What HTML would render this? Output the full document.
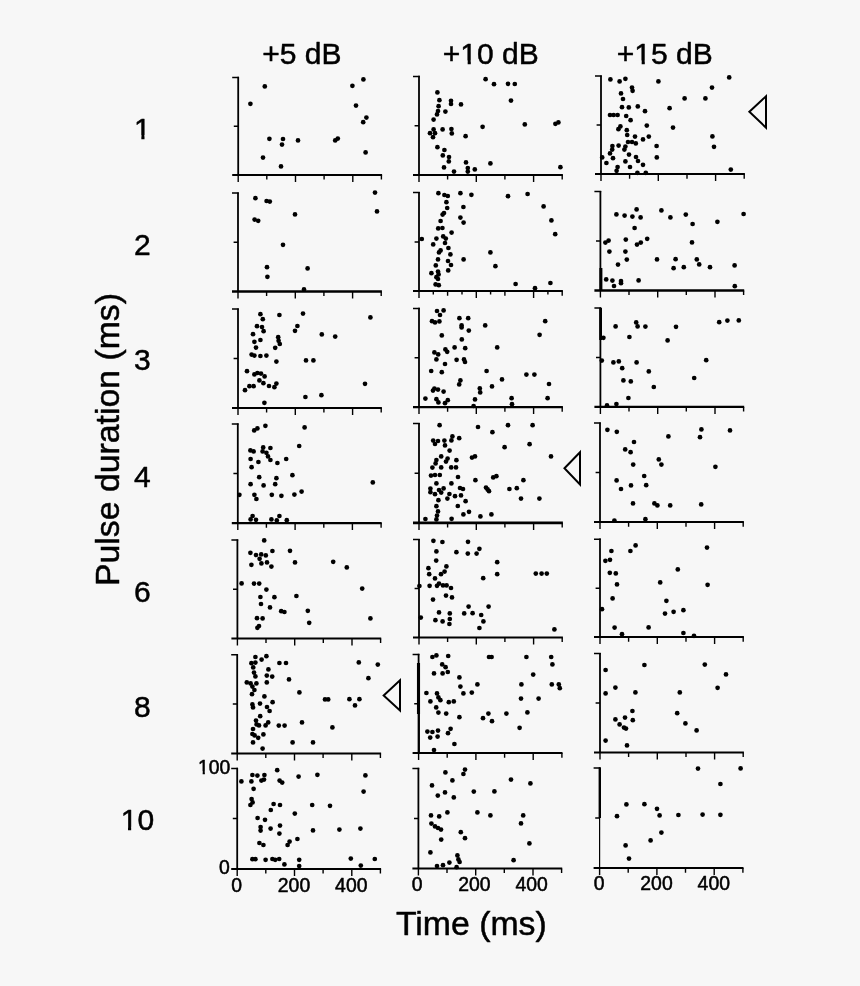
<!DOCTYPE html>
<html><head><meta charset="utf-8"><title>Figure</title>
<style>html,body{margin:0;padding:0;background:#f7f7f7}svg{display:block;will-change:transform;filter:grayscale(1)}text{font-family:"Liberation Sans",Arial,Helvetica,sans-serif;fill:#000;stroke:#000;stroke-width:0.5px;stroke-linejoin:round}</style></head><body>
<svg width="860" height="986" viewBox="0 0 860 986">
<rect width="860" height="986" fill="#f7f7f7"/>
<g stroke="#000" fill="none"><path stroke-width="1.80" d="M238.2 76.8V174.9"/><path stroke-width="1.5" d="M232.2 77.4H239.0M233.8 126.2H238.2"/><path stroke-width="2.00" d="M232.2 174.9H382.1"/><path stroke-width="1.4" d="M238.2 174.9v7.0M266.8 174.9v4.6M295.5 174.9v7.0M324.1 174.9v4.6M352.8 174.9v7.0M381.4 174.9v4.6"/></g>
<g stroke="#000" fill="none"><path stroke-width="1.80" d="M419.0 75.8V174.9"/><path stroke-width="1.5" d="M413.0 76.4H419.8M414.6 125.7H419.0"/><path stroke-width="2.00" d="M413.0 174.9H562.9"/><path stroke-width="1.4" d="M419.0 174.9v7.0M447.6 174.9v4.6M476.3 174.9v7.0M504.9 174.9v4.6M533.6 174.9v7.0M562.2 174.9v4.6"/></g>
<g stroke="#000" fill="none"><path stroke-width="1.80" d="M601.0 75.4V174.1"/><path stroke-width="1.5" d="M595.0 76.0H601.8M596.6 125.0H601.0"/><path stroke-width="2.00" d="M595.0 174.1H744.9"/><path stroke-width="1.4" d="M601.0 174.1v7.0M629.6 174.1v4.6M658.3 174.1v7.0M687.0 174.1v4.6M715.6 174.1v7.0M744.2 174.1v4.6"/></g>
<g stroke="#000" fill="none"><path stroke-width="1.80" d="M238.0 192.4V291.5"/><path stroke-width="1.5" d="M232.0 193.0H238.8M233.6 242.2H238.0"/><path stroke-width="2.50" d="M232.0 291.5H381.9"/><path stroke-width="1.4" d="M238.0 291.5v7.0M266.6 291.5v4.6M295.3 291.5v7.0M323.9 291.5v4.6M352.6 291.5v7.0M381.2 291.5v4.6"/></g>
<g stroke="#000" fill="none"><path stroke-width="1.80" d="M419.0 192.0V291.1"/><path stroke-width="1.5" d="M413.0 192.6H419.8M414.6 241.9H419.0"/><path stroke-width="2.00" d="M413.0 291.1H562.9"/><path stroke-width="1.4" d="M419.0 291.1v7.0M447.6 291.1v4.6M476.3 291.1v7.0M504.9 291.1v4.6M533.6 291.1v7.0M562.2 291.1v4.6M433.3 291.1v3.4M462.0 291.1v3.4M490.6 291.1v3.4M547.9 291.1v3.4"/></g>
<g stroke="#000" fill="none"><path stroke-width="1.80" d="M600.4 191.0V290.5"/><path stroke-width="3.00" d="M600.9 268.0V290.0"/><path stroke-width="1.5" d="M594.4 191.6H601.2M596.0 241.1H600.4"/><path stroke-width="2.30" d="M594.4 290.5H744.2"/><path stroke-width="1.4" d="M600.4 290.5v7.0M629.0 290.5v4.6M657.7 290.5v7.0M686.3 290.5v4.6M715.0 290.5v7.0M743.6 290.5v4.6"/></g>
<g stroke="#000" fill="none"><path stroke-width="1.80" d="M238.0 308.4V407.9"/><path stroke-width="1.5" d="M232.0 309.0H238.8M233.6 358.4H238.0"/><path stroke-width="2.00" d="M232.0 407.9H381.9"/><path stroke-width="1.4" d="M238.0 407.9v7.0M266.6 407.9v4.6M295.3 407.9v7.0M323.9 407.9v4.6M352.6 407.9v7.0M381.2 407.9v4.6"/></g>
<g stroke="#000" fill="none"><path stroke-width="1.80" d="M419.0 307.8V407.1"/><path stroke-width="1.5" d="M413.0 308.4H419.8M414.6 357.8H419.0"/><path stroke-width="2.30" d="M413.0 407.1H562.9"/><path stroke-width="1.4" d="M419.0 407.1v7.0M447.6 407.1v4.6M476.3 407.1v7.0M504.9 407.1v4.6M533.6 407.1v7.0M562.2 407.1v4.6"/></g>
<g stroke="#000" fill="none"><path stroke-width="1.80" d="M600.4 307.4V406.9"/><path stroke-width="2.80" d="M600.6 308.0V340.0"/><path stroke-width="1.5" d="M594.4 308.0H601.2M596.0 357.4H600.4"/><path stroke-width="2.30" d="M594.4 406.9H744.2"/><path stroke-width="1.4" d="M600.4 406.9v7.0M629.0 406.9v4.6M657.7 406.9v7.0M686.3 406.9v4.6M715.0 406.9v7.0M743.6 406.9v4.6"/></g>
<g stroke="#000" fill="none"><path stroke-width="1.80" d="M237.8 423.4V523.1"/><path stroke-width="1.5" d="M231.8 424.0H238.6M233.4 473.6H237.8"/><path stroke-width="2.30" d="M231.8 523.1H381.7"/><path stroke-width="1.4" d="M237.8 523.1v7.0M266.4 523.1v4.6M295.1 523.1v7.0M323.8 523.1v4.6M352.4 523.1v7.0M381.1 523.1v4.6"/></g>
<g stroke="#000" fill="none"><path stroke-width="1.80" d="M419.0 423.0V522.9"/><path stroke-width="1.5" d="M413.0 423.6H419.8M414.6 473.2H419.0"/><path stroke-width="2.60" d="M413.0 522.9H562.9"/><path stroke-width="1.4" d="M419.0 522.9v7.0M447.6 522.9v4.6M476.3 522.9v7.0M504.9 522.9v4.6M533.6 522.9v7.0M562.2 522.9v4.6"/></g>
<g stroke="#000" fill="none"><path stroke-width="1.80" d="M600.0 422.4V522.1"/><path stroke-width="1.5" d="M594.0 423.0H600.8M595.6 472.6H600.0"/><path stroke-width="2.00" d="M594.0 522.1H743.9"/><path stroke-width="1.4" d="M600.0 522.1v7.0M628.6 522.1v4.6M657.3 522.1v7.0M686.0 522.1v4.6M714.6 522.1v7.0M743.2 522.1v4.6"/></g>
<g stroke="#000" fill="none"><path stroke-width="1.80" d="M237.4 539.4V638.5"/><path stroke-width="1.5" d="M231.4 540.0H238.2M233.0 589.2H237.4"/><path stroke-width="2.00" d="M231.4 638.5H381.2"/><path stroke-width="1.4" d="M237.4 638.5v7.0M266.0 638.5v4.6M294.7 638.5v7.0M323.3 638.5v4.6M352.0 638.5v7.0M380.6 638.5v4.6"/></g>
<g stroke="#000" fill="none"><path stroke-width="1.80" d="M419.0 539.0V637.5"/><path stroke-width="1.5" d="M413.0 539.6H419.8M414.6 588.5H419.0"/><path stroke-width="2.00" d="M413.0 637.5H562.9"/><path stroke-width="1.4" d="M419.0 637.5v7.0M447.6 637.5v4.6M476.3 637.5v7.0M504.9 637.5v4.6M533.6 637.5v7.0M562.2 637.5v4.6"/></g>
<g stroke="#000" fill="none"><path stroke-width="1.80" d="M600.0 538.6V637.1"/><path stroke-width="1.5" d="M594.0 539.2H600.8M595.6 588.2H600.0"/><path stroke-width="2.00" d="M594.0 637.1H743.9"/><path stroke-width="1.4" d="M600.0 637.1v7.0M628.6 637.1v4.6M657.3 637.1v7.0M686.0 637.1v4.6M714.6 637.1v7.0M743.2 637.1v4.6"/></g>
<g stroke="#000" fill="none"><path stroke-width="1.80" d="M237.2 654.2V753.5"/><path stroke-width="1.5" d="M231.2 654.8H238.0M232.8 704.1H237.2"/><path stroke-width="2.00" d="M231.2 753.5H381.1"/><path stroke-width="1.4" d="M237.2 753.5v7.0M265.8 753.5v4.6M294.5 753.5v7.0M323.1 753.5v4.6M351.8 753.5v7.0M380.4 753.5v4.6"/></g>
<g stroke="#000" fill="none"><path stroke-width="1.80" d="M418.6 653.8V753.1"/><path stroke-width="3.10" d="M418.5 663.0V714.0"/><path stroke-width="2.00" d="M418.9 714.0V752.6"/><path stroke-width="1.5" d="M412.6 654.4H419.4M414.2 703.8H418.6"/><path stroke-width="2.00" d="M412.6 753.1H562.5"/><path stroke-width="1.4" d="M418.6 753.1v7.0M447.2 753.1v4.6M475.9 753.1v7.0M504.6 753.1v4.6M533.2 753.1v7.0M561.9 753.1v4.6"/></g>
<g stroke="#000" fill="none"><path stroke-width="1.80" d="M600.0 653.0V752.5"/><path stroke-width="1.5" d="M594.0 653.6H600.8M595.6 703.0H600.0"/><path stroke-width="2.00" d="M594.0 752.5H743.9"/><path stroke-width="1.4" d="M600.0 752.5v7.0M628.6 752.5v4.6M657.3 752.5v7.0M686.0 752.5v4.6M714.6 752.5v7.0M743.2 752.5v4.6"/></g>
<g stroke="#000" fill="none"><path stroke-width="1.80" d="M237.2 767.8V868.9"/><path stroke-width="1.5" d="M231.2 768.4H238.0M232.8 818.6H237.2"/><path stroke-width="2.00" d="M231.2 868.9H381.1"/><path stroke-width="1.4" d="M237.2 868.9v7.0M265.8 868.9v4.6M294.5 868.9v7.0M323.1 868.9v4.6M351.8 868.9v7.0M380.4 868.9v4.6"/></g>
<g stroke="#000" fill="none"><path stroke-width="1.80" d="M418.4 767.8V868.5"/><path stroke-width="1.5" d="M412.4 768.4H419.2M414.0 818.5H418.4"/><path stroke-width="2.00" d="M412.4 868.5H562.2"/><path stroke-width="1.4" d="M418.4 868.5v7.0M447.0 868.5v4.6M475.7 868.5v7.0M504.3 868.5v4.6M533.0 868.5v7.0M561.6 868.5v4.6"/></g>
<g stroke="#000" fill="none"><path stroke-width="1.20" d="M599.6 767.4V868.1"/><path stroke-width="2.40" d="M599.8 767.4V818.0"/><path stroke-width="1.5" d="M593.6 768.0H600.4M595.2 818.0H599.6"/><path stroke-width="2.00" d="M593.6 868.1H743.5"/><path stroke-width="1.4" d="M599.6 868.1v7.0M628.2 868.1v4.6M656.9 868.1v7.0M685.5 868.1v4.6M714.2 868.1v7.0M742.9 868.1v4.6"/></g>
<g fill="#000"><circle cx="250.4" cy="103.8" r="2.35"/><circle cx="264.8" cy="86.4" r="2.35"/><circle cx="269.4" cy="138.8" r="2.35"/><circle cx="263.0" cy="157.6" r="2.35"/><circle cx="283.0" cy="139.0" r="2.35"/><circle cx="282.0" cy="144.6" r="2.35"/><circle cx="281.0" cy="166.4" r="2.35"/><circle cx="298.0" cy="140.4" r="2.35"/><circle cx="335.2" cy="140.4" r="2.35"/><circle cx="337.8" cy="138.6" r="2.35"/><circle cx="352.4" cy="85.8" r="2.35"/><circle cx="363.4" cy="79.4" r="2.35"/><circle cx="356.0" cy="105.6" r="2.35"/><circle cx="366.4" cy="117.6" r="2.35"/><circle cx="363.2" cy="122.2" r="2.35"/><circle cx="365.6" cy="152.4" r="2.35"/></g>
<g fill="#000"><circle cx="485.6" cy="79.2" r="2.35"/><circle cx="494.0" cy="84.2" r="2.35"/><circle cx="508.0" cy="83.8" r="2.35"/><circle cx="514.8" cy="84.0" r="2.35"/><circle cx="511.0" cy="100.6" r="2.35"/><circle cx="437.4" cy="92.4" r="2.35"/><circle cx="439.4" cy="100.2" r="2.35"/><circle cx="451.0" cy="100.8" r="2.35"/><circle cx="451.0" cy="104.0" r="2.35"/><circle cx="461.0" cy="104.4" r="2.35"/><circle cx="438.6" cy="106.2" r="2.35"/><circle cx="438.0" cy="111.0" r="2.35"/><circle cx="445.4" cy="111.6" r="2.35"/><circle cx="437.0" cy="114.4" r="2.35"/><circle cx="433.6" cy="119.6" r="2.35"/><circle cx="482.6" cy="126.8" r="2.35"/><circle cx="524.8" cy="124.4" r="2.35"/><circle cx="555.4" cy="123.8" r="2.35"/><circle cx="558.4" cy="122.4" r="2.35"/><circle cx="433.6" cy="129.4" r="2.35"/><circle cx="442.6" cy="129.4" r="2.35"/><circle cx="451.4" cy="129.0" r="2.35"/><circle cx="430.0" cy="133.2" r="2.35"/><circle cx="435.0" cy="133.2" r="2.35"/><circle cx="451.8" cy="133.4" r="2.35"/><circle cx="433.0" cy="137.2" r="2.35"/><circle cx="465.6" cy="136.2" r="2.35"/><circle cx="437.4" cy="147.2" r="2.35"/><circle cx="444.4" cy="150.0" r="2.35"/><circle cx="442.8" cy="155.4" r="2.35"/><circle cx="449.0" cy="157.0" r="2.35"/><circle cx="448.8" cy="161.4" r="2.35"/><circle cx="466.0" cy="162.4" r="2.35"/><circle cx="490.4" cy="163.4" r="2.35"/><circle cx="444.0" cy="167.4" r="2.35"/><circle cx="467.8" cy="168.0" r="2.35"/><circle cx="474.8" cy="169.4" r="2.35"/><circle cx="560.4" cy="167.2" r="2.35"/><circle cx="454.0" cy="171.6" r="2.35"/><circle cx="467.8" cy="171.6" r="2.35"/></g>
<g fill="#000"><circle cx="610.4" cy="79.4" r="2.35"/><circle cx="619.6" cy="81.4" r="2.35"/><circle cx="625.4" cy="78.8" r="2.35"/><circle cx="658.4" cy="81.4" r="2.35"/><circle cx="729.2" cy="77.4" r="2.35"/><circle cx="712.0" cy="87.6" r="2.35"/><circle cx="632.0" cy="87.6" r="2.35"/><circle cx="632.6" cy="90.8" r="2.35"/><circle cx="621.0" cy="93.4" r="2.35"/><circle cx="623.0" cy="99.0" r="2.35"/><circle cx="684.6" cy="98.4" r="2.35"/><circle cx="705.4" cy="98.4" r="2.35"/><circle cx="622.0" cy="107.2" r="2.35"/><circle cx="628.8" cy="107.4" r="2.35"/><circle cx="637.8" cy="106.4" r="2.35"/><circle cx="645.0" cy="111.2" r="2.35"/><circle cx="669.6" cy="108.2" r="2.35"/><circle cx="610.0" cy="115.0" r="2.35"/><circle cx="613.6" cy="115.0" r="2.35"/><circle cx="617.6" cy="115.0" r="2.35"/><circle cx="626.2" cy="116.0" r="2.35"/><circle cx="630.6" cy="120.2" r="2.35"/><circle cx="620.4" cy="126.4" r="2.35"/><circle cx="618.4" cy="129.2" r="2.35"/><circle cx="646.8" cy="125.6" r="2.35"/><circle cx="673.0" cy="127.6" r="2.35"/><circle cx="626.8" cy="130.2" r="2.35"/><circle cx="627.2" cy="135.0" r="2.35"/><circle cx="635.0" cy="136.6" r="2.35"/><circle cx="648.8" cy="136.6" r="2.35"/><circle cx="643.0" cy="139.4" r="2.35"/><circle cx="712.4" cy="136.4" r="2.35"/><circle cx="628.0" cy="142.0" r="2.35"/><circle cx="632.0" cy="142.0" r="2.35"/><circle cx="635.8" cy="143.4" r="2.35"/><circle cx="612.4" cy="146.0" r="2.35"/><circle cx="618.6" cy="145.6" r="2.35"/><circle cx="625.4" cy="146.6" r="2.35"/><circle cx="656.6" cy="146.0" r="2.35"/><circle cx="714.0" cy="146.8" r="2.35"/><circle cx="612.2" cy="149.6" r="2.35"/><circle cx="624.4" cy="149.6" r="2.35"/><circle cx="610.0" cy="153.4" r="2.35"/><circle cx="629.0" cy="154.6" r="2.35"/><circle cx="602.2" cy="157.4" r="2.35"/><circle cx="613.0" cy="158.2" r="2.35"/><circle cx="636.0" cy="157.0" r="2.35"/><circle cx="656.8" cy="157.4" r="2.35"/><circle cx="606.4" cy="163.0" r="2.35"/><circle cx="625.4" cy="161.4" r="2.35"/><circle cx="638.0" cy="161.0" r="2.35"/><circle cx="643.0" cy="164.8" r="2.35"/><circle cx="617.6" cy="167.0" r="2.35"/><circle cx="630.0" cy="167.0" r="2.35"/><circle cx="616.6" cy="170.8" r="2.35"/><circle cx="637.4" cy="172.8" r="2.35"/><circle cx="645.8" cy="172.8" r="2.35"/><circle cx="730.8" cy="169.6" r="2.35"/></g>
<g fill="#000"><circle cx="255.4" cy="198.2" r="2.35"/><circle cx="266.6" cy="201.0" r="2.35"/><circle cx="269.8" cy="201.6" r="2.35"/><circle cx="375.0" cy="192.6" r="2.35"/><circle cx="377.0" cy="211.4" r="2.35"/><circle cx="295.0" cy="214.4" r="2.35"/><circle cx="254.6" cy="219.6" r="2.35"/><circle cx="258.2" cy="220.8" r="2.35"/><circle cx="283.0" cy="244.8" r="2.35"/><circle cx="267.0" cy="267.2" r="2.35"/><circle cx="267.4" cy="276.8" r="2.35"/><circle cx="307.6" cy="268.4" r="2.35"/><circle cx="304.0" cy="289.4" r="2.35"/></g>
<g fill="#000"><circle cx="438.4" cy="193.2" r="2.35"/><circle cx="444.4" cy="195.0" r="2.35"/><circle cx="447.8" cy="196.0" r="2.35"/><circle cx="460.4" cy="193.2" r="2.35"/><circle cx="471.4" cy="194.8" r="2.35"/><circle cx="508.0" cy="196.2" r="2.35"/><circle cx="527.6" cy="194.0" r="2.35"/><circle cx="446.4" cy="202.2" r="2.35"/><circle cx="463.4" cy="207.0" r="2.35"/><circle cx="543.6" cy="206.4" r="2.35"/><circle cx="447.2" cy="208.0" r="2.35"/><circle cx="444.0" cy="213.0" r="2.35"/><circle cx="442.6" cy="214.6" r="2.35"/><circle cx="460.4" cy="217.6" r="2.35"/><circle cx="463.6" cy="222.6" r="2.35"/><circle cx="551.4" cy="220.4" r="2.35"/><circle cx="440.6" cy="221.0" r="2.35"/><circle cx="438.2" cy="228.4" r="2.35"/><circle cx="442.4" cy="228.0" r="2.35"/><circle cx="451.6" cy="232.6" r="2.35"/><circle cx="555.2" cy="234.2" r="2.35"/><circle cx="443.2" cy="236.4" r="2.35"/><circle cx="445.8" cy="238.6" r="2.35"/><circle cx="436.4" cy="238.6" r="2.35"/><circle cx="421.8" cy="239.0" r="2.35"/><circle cx="445.0" cy="243.0" r="2.35"/><circle cx="433.2" cy="244.4" r="2.35"/><circle cx="448.4" cy="248.0" r="2.35"/><circle cx="440.6" cy="250.4" r="2.35"/><circle cx="439.0" cy="252.4" r="2.35"/><circle cx="490.4" cy="252.4" r="2.35"/><circle cx="450.4" cy="254.4" r="2.35"/><circle cx="438.0" cy="259.4" r="2.35"/><circle cx="448.0" cy="261.0" r="2.35"/><circle cx="463.6" cy="259.4" r="2.35"/><circle cx="451.0" cy="265.0" r="2.35"/><circle cx="435.8" cy="265.4" r="2.35"/><circle cx="495.4" cy="266.2" r="2.35"/><circle cx="448.2" cy="270.4" r="2.35"/><circle cx="438.0" cy="271.6" r="2.35"/><circle cx="431.4" cy="273.2" r="2.35"/><circle cx="438.6" cy="274.4" r="2.35"/><circle cx="436.4" cy="277.2" r="2.35"/><circle cx="438.0" cy="279.0" r="2.35"/><circle cx="435.6" cy="284.4" r="2.35"/><circle cx="438.8" cy="285.2" r="2.35"/><circle cx="515.6" cy="284.0" r="2.35"/><circle cx="550.4" cy="283.0" r="2.35"/><circle cx="535.0" cy="288.2" r="2.35"/></g>
<g fill="#000"><circle cx="636.6" cy="209.4" r="2.35"/><circle cx="661.4" cy="210.4" r="2.35"/><circle cx="616.4" cy="214.4" r="2.35"/><circle cx="624.6" cy="215.6" r="2.35"/><circle cx="632.4" cy="216.6" r="2.35"/><circle cx="640.6" cy="217.4" r="2.35"/><circle cx="670.4" cy="217.4" r="2.35"/><circle cx="685.8" cy="214.6" r="2.35"/><circle cx="743.6" cy="214.0" r="2.35"/><circle cx="692.6" cy="224.0" r="2.35"/><circle cx="717.4" cy="221.8" r="2.35"/><circle cx="634.6" cy="228.0" r="2.35"/><circle cx="647.2" cy="238.8" r="2.35"/><circle cx="625.8" cy="239.6" r="2.35"/><circle cx="608.6" cy="240.6" r="2.35"/><circle cx="605.4" cy="242.6" r="2.35"/><circle cx="640.8" cy="242.6" r="2.35"/><circle cx="637.0" cy="244.6" r="2.35"/><circle cx="692.0" cy="242.4" r="2.35"/><circle cx="609.4" cy="251.6" r="2.35"/><circle cx="625.4" cy="251.6" r="2.35"/><circle cx="626.8" cy="259.6" r="2.35"/><circle cx="657.0" cy="259.4" r="2.35"/><circle cx="675.6" cy="259.2" r="2.35"/><circle cx="696.8" cy="259.4" r="2.35"/><circle cx="618.0" cy="264.6" r="2.35"/><circle cx="699.2" cy="264.4" r="2.35"/><circle cx="673.6" cy="268.2" r="2.35"/><circle cx="683.8" cy="267.2" r="2.35"/><circle cx="710.0" cy="267.2" r="2.35"/><circle cx="734.6" cy="265.4" r="2.35"/><circle cx="606.2" cy="279.4" r="2.35"/><circle cx="612.4" cy="280.6" r="2.35"/><circle cx="621.0" cy="281.0" r="2.35"/><circle cx="621.0" cy="283.2" r="2.35"/><circle cx="638.6" cy="280.4" r="2.35"/><circle cx="614.0" cy="286.0" r="2.35"/><circle cx="734.8" cy="286.2" r="2.35"/></g>
<g fill="#000"><circle cx="260.4" cy="314.2" r="2.35"/><circle cx="279.4" cy="315.0" r="2.35"/><circle cx="303.0" cy="313.6" r="2.35"/><circle cx="370.4" cy="317.4" r="2.35"/><circle cx="262.8" cy="319.2" r="2.35"/><circle cx="257.0" cy="326.2" r="2.35"/><circle cx="262.0" cy="327.0" r="2.35"/><circle cx="297.4" cy="326.0" r="2.35"/><circle cx="263.6" cy="331.2" r="2.35"/><circle cx="295.0" cy="330.8" r="2.35"/><circle cx="253.0" cy="334.2" r="2.35"/><circle cx="321.8" cy="334.4" r="2.35"/><circle cx="335.2" cy="336.6" r="2.35"/><circle cx="278.2" cy="337.2" r="2.35"/><circle cx="260.4" cy="340.0" r="2.35"/><circle cx="278.6" cy="340.8" r="2.35"/><circle cx="254.4" cy="341.8" r="2.35"/><circle cx="279.8" cy="344.0" r="2.35"/><circle cx="256.0" cy="347.6" r="2.35"/><circle cx="275.2" cy="347.8" r="2.35"/><circle cx="251.6" cy="354.6" r="2.35"/><circle cx="254.4" cy="355.6" r="2.35"/><circle cx="260.4" cy="356.0" r="2.35"/><circle cx="266.4" cy="355.6" r="2.35"/><circle cx="276.4" cy="361.6" r="2.35"/><circle cx="306.0" cy="360.4" r="2.35"/><circle cx="313.4" cy="360.4" r="2.35"/><circle cx="247.0" cy="371.2" r="2.35"/><circle cx="254.4" cy="374.4" r="2.35"/><circle cx="257.4" cy="373.0" r="2.35"/><circle cx="261.0" cy="373.6" r="2.35"/><circle cx="264.6" cy="376.4" r="2.35"/><circle cx="259.4" cy="380.4" r="2.35"/><circle cx="263.4" cy="383.2" r="2.35"/><circle cx="276.4" cy="383.6" r="2.35"/><circle cx="365.0" cy="383.8" r="2.35"/><circle cx="249.4" cy="386.2" r="2.35"/><circle cx="253.6" cy="386.2" r="2.35"/><circle cx="269.0" cy="386.0" r="2.35"/><circle cx="274.4" cy="387.2" r="2.35"/><circle cx="245.0" cy="390.2" r="2.35"/><circle cx="305.4" cy="397.0" r="2.35"/><circle cx="321.4" cy="395.2" r="2.35"/><circle cx="264.4" cy="402.8" r="2.35"/></g>
<g fill="#000"><circle cx="437.0" cy="311.0" r="2.35"/><circle cx="443.6" cy="310.4" r="2.35"/><circle cx="440.0" cy="315.0" r="2.35"/><circle cx="459.4" cy="318.2" r="2.35"/><circle cx="468.2" cy="318.2" r="2.35"/><circle cx="432.0" cy="321.2" r="2.35"/><circle cx="435.0" cy="322.4" r="2.35"/><circle cx="439.4" cy="321.4" r="2.35"/><circle cx="545.2" cy="321.2" r="2.35"/><circle cx="461.6" cy="325.4" r="2.35"/><circle cx="461.6" cy="327.4" r="2.35"/><circle cx="485.2" cy="325.4" r="2.35"/><circle cx="468.8" cy="330.6" r="2.35"/><circle cx="441.8" cy="335.4" r="2.35"/><circle cx="539.6" cy="334.8" r="2.35"/><circle cx="461.8" cy="339.4" r="2.35"/><circle cx="454.6" cy="347.4" r="2.35"/><circle cx="465.2" cy="348.2" r="2.35"/><circle cx="497.2" cy="347.4" r="2.35"/><circle cx="445.4" cy="349.4" r="2.35"/><circle cx="447.2" cy="351.8" r="2.35"/><circle cx="434.4" cy="352.4" r="2.35"/><circle cx="438.2" cy="354.4" r="2.35"/><circle cx="436.4" cy="359.4" r="2.35"/><circle cx="456.6" cy="359.8" r="2.35"/><circle cx="464.0" cy="359.4" r="2.35"/><circle cx="465.0" cy="362.0" r="2.35"/><circle cx="445.0" cy="364.0" r="2.35"/><circle cx="431.2" cy="371.0" r="2.35"/><circle cx="441.8" cy="372.2" r="2.35"/><circle cx="486.6" cy="371.0" r="2.35"/><circle cx="526.4" cy="374.6" r="2.35"/><circle cx="534.4" cy="374.6" r="2.35"/><circle cx="460.4" cy="380.4" r="2.35"/><circle cx="459.2" cy="384.4" r="2.35"/><circle cx="502.0" cy="379.4" r="2.35"/><circle cx="549.0" cy="384.0" r="2.35"/><circle cx="492.0" cy="386.4" r="2.35"/><circle cx="434.4" cy="388.6" r="2.35"/><circle cx="433.0" cy="390.6" r="2.35"/><circle cx="438.0" cy="389.6" r="2.35"/><circle cx="443.6" cy="391.6" r="2.35"/><circle cx="479.8" cy="388.4" r="2.35"/><circle cx="480.2" cy="392.4" r="2.35"/><circle cx="425.4" cy="398.6" r="2.35"/><circle cx="436.4" cy="399.2" r="2.35"/><circle cx="438.4" cy="402.4" r="2.35"/><circle cx="447.8" cy="400.2" r="2.35"/><circle cx="445.0" cy="403.2" r="2.35"/><circle cx="475.0" cy="399.4" r="2.35"/><circle cx="511.6" cy="398.2" r="2.35"/><circle cx="547.6" cy="398.2" r="2.35"/><circle cx="473.6" cy="406.0" r="2.35"/><circle cx="512.0" cy="404.2" r="2.35"/></g>
<g fill="#000"><circle cx="636.2" cy="322.4" r="2.35"/><circle cx="637.6" cy="326.4" r="2.35"/><circle cx="615.6" cy="326.4" r="2.35"/><circle cx="645.4" cy="326.6" r="2.35"/><circle cx="676.0" cy="326.8" r="2.35"/><circle cx="719.2" cy="322.2" r="2.35"/><circle cx="727.4" cy="320.6" r="2.35"/><circle cx="738.8" cy="320.4" r="2.35"/><circle cx="603.4" cy="337.8" r="2.35"/><circle cx="629.4" cy="337.0" r="2.35"/><circle cx="667.6" cy="340.4" r="2.35"/><circle cx="601.8" cy="360.6" r="2.35"/><circle cx="613.4" cy="362.4" r="2.35"/><circle cx="618.8" cy="361.4" r="2.35"/><circle cx="636.6" cy="362.4" r="2.35"/><circle cx="706.2" cy="360.2" r="2.35"/><circle cx="622.2" cy="368.2" r="2.35"/><circle cx="648.8" cy="371.4" r="2.35"/><circle cx="694.2" cy="378.0" r="2.35"/><circle cx="623.4" cy="380.4" r="2.35"/><circle cx="630.8" cy="381.4" r="2.35"/><circle cx="653.8" cy="387.0" r="2.35"/><circle cx="628.4" cy="398.0" r="2.35"/><circle cx="616.4" cy="404.0" r="2.35"/><circle cx="607.0" cy="405.4" r="2.35"/></g>
<g fill="#000"><circle cx="265.4" cy="425.8" r="2.35"/><circle cx="257.4" cy="428.4" r="2.35"/><circle cx="254.2" cy="430.4" r="2.35"/><circle cx="304.6" cy="427.4" r="2.35"/><circle cx="299.2" cy="446.0" r="2.35"/><circle cx="263.2" cy="447.4" r="2.35"/><circle cx="270.4" cy="448.0" r="2.35"/><circle cx="250.4" cy="450.4" r="2.35"/><circle cx="253.6" cy="451.4" r="2.35"/><circle cx="262.6" cy="451.4" r="2.35"/><circle cx="266.4" cy="452.8" r="2.35"/><circle cx="268.0" cy="456.4" r="2.35"/><circle cx="250.6" cy="459.0" r="2.35"/><circle cx="270.4" cy="460.0" r="2.35"/><circle cx="286.2" cy="459.0" r="2.35"/><circle cx="258.4" cy="462.0" r="2.35"/><circle cx="277.4" cy="463.0" r="2.35"/><circle cx="251.6" cy="467.2" r="2.35"/><circle cx="292.4" cy="475.2" r="2.35"/><circle cx="259.2" cy="477.2" r="2.35"/><circle cx="276.4" cy="478.2" r="2.35"/><circle cx="250.6" cy="484.2" r="2.35"/><circle cx="263.6" cy="485.4" r="2.35"/><circle cx="275.2" cy="484.2" r="2.35"/><circle cx="372.8" cy="482.4" r="2.35"/><circle cx="301.6" cy="491.6" r="2.35"/><circle cx="239.4" cy="494.8" r="2.35"/><circle cx="254.4" cy="494.8" r="2.35"/><circle cx="271.8" cy="494.8" r="2.35"/><circle cx="281.4" cy="495.8" r="2.35"/><circle cx="294.4" cy="494.6" r="2.35"/><circle cx="256.4" cy="499.0" r="2.35"/><circle cx="252.6" cy="516.0" r="2.35"/><circle cx="279.4" cy="516.0" r="2.35"/><circle cx="250.6" cy="519.4" r="2.35"/><circle cx="256.0" cy="519.8" r="2.35"/><circle cx="271.4" cy="519.4" r="2.35"/><circle cx="276.8" cy="520.4" r="2.35"/><circle cx="286.8" cy="520.2" r="2.35"/></g>
<g fill="#000"><circle cx="439.6" cy="425.2" r="2.35"/><circle cx="478.0" cy="427.0" r="2.35"/><circle cx="508.0" cy="425.2" r="2.35"/><circle cx="532.6" cy="425.2" r="2.35"/><circle cx="492.4" cy="432.2" r="2.35"/><circle cx="452.4" cy="436.4" r="2.35"/><circle cx="459.2" cy="438.2" r="2.35"/><circle cx="451.4" cy="440.4" r="2.35"/><circle cx="433.2" cy="440.6" r="2.35"/><circle cx="438.0" cy="441.0" r="2.35"/><circle cx="444.4" cy="440.6" r="2.35"/><circle cx="435.0" cy="444.0" r="2.35"/><circle cx="445.0" cy="445.4" r="2.35"/><circle cx="529.6" cy="444.2" r="2.35"/><circle cx="504.6" cy="447.2" r="2.35"/><circle cx="449.6" cy="450.6" r="2.35"/><circle cx="441.2" cy="456.4" r="2.35"/><circle cx="475.0" cy="456.4" r="2.35"/><circle cx="472.0" cy="457.6" r="2.35"/><circle cx="551.0" cy="456.4" r="2.35"/><circle cx="447.6" cy="458.6" r="2.35"/><circle cx="436.4" cy="460.0" r="2.35"/><circle cx="456.4" cy="460.2" r="2.35"/><circle cx="446.0" cy="461.6" r="2.35"/><circle cx="435.6" cy="463.4" r="2.35"/><circle cx="432.4" cy="467.6" r="2.35"/><circle cx="441.2" cy="467.4" r="2.35"/><circle cx="451.2" cy="467.4" r="2.35"/><circle cx="456.0" cy="467.4" r="2.35"/><circle cx="431.0" cy="475.6" r="2.35"/><circle cx="435.0" cy="475.0" r="2.35"/><circle cx="439.8" cy="475.0" r="2.35"/><circle cx="458.0" cy="477.0" r="2.35"/><circle cx="496.4" cy="476.2" r="2.35"/><circle cx="493.2" cy="477.4" r="2.35"/><circle cx="475.4" cy="480.2" r="2.35"/><circle cx="523.4" cy="480.2" r="2.35"/><circle cx="436.4" cy="483.4" r="2.35"/><circle cx="451.4" cy="483.4" r="2.35"/><circle cx="430.4" cy="488.6" r="2.35"/><circle cx="439.0" cy="490.0" r="2.35"/><circle cx="443.6" cy="488.4" r="2.35"/><circle cx="460.0" cy="488.0" r="2.35"/><circle cx="463.0" cy="489.0" r="2.35"/><circle cx="486.0" cy="487.6" r="2.35"/><circle cx="487.6" cy="489.4" r="2.35"/><circle cx="489.0" cy="491.2" r="2.35"/><circle cx="509.4" cy="489.0" r="2.35"/><circle cx="516.8" cy="488.2" r="2.35"/><circle cx="430.4" cy="492.2" r="2.35"/><circle cx="435.0" cy="494.2" r="2.35"/><circle cx="441.2" cy="492.6" r="2.35"/><circle cx="449.4" cy="494.0" r="2.35"/><circle cx="455.0" cy="496.2" r="2.35"/><circle cx="461.0" cy="495.4" r="2.35"/><circle cx="521.0" cy="498.6" r="2.35"/><circle cx="539.4" cy="498.6" r="2.35"/><circle cx="438.4" cy="500.2" r="2.35"/><circle cx="447.4" cy="498.6" r="2.35"/><circle cx="465.6" cy="501.2" r="2.35"/><circle cx="436.4" cy="506.2" r="2.35"/><circle cx="457.8" cy="506.0" r="2.35"/><circle cx="438.0" cy="511.4" r="2.35"/><circle cx="469.0" cy="511.8" r="2.35"/><circle cx="463.4" cy="514.4" r="2.35"/><circle cx="491.4" cy="514.4" r="2.35"/><circle cx="480.4" cy="516.4" r="2.35"/><circle cx="437.0" cy="515.6" r="2.35"/><circle cx="425.4" cy="519.0" r="2.35"/><circle cx="436.4" cy="519.4" r="2.35"/><circle cx="451.6" cy="518.8" r="2.35"/></g>
<g fill="#000"><circle cx="607.4" cy="429.8" r="2.35"/><circle cx="616.8" cy="431.8" r="2.35"/><circle cx="701.4" cy="429.4" r="2.35"/><circle cx="730.0" cy="430.4" r="2.35"/><circle cx="668.4" cy="436.4" r="2.35"/><circle cx="700.0" cy="437.2" r="2.35"/><circle cx="634.0" cy="442.0" r="2.35"/><circle cx="625.2" cy="449.4" r="2.35"/><circle cx="630.6" cy="452.2" r="2.35"/><circle cx="658.8" cy="459.4" r="2.35"/><circle cx="633.2" cy="464.6" r="2.35"/><circle cx="661.4" cy="464.6" r="2.35"/><circle cx="715.4" cy="466.8" r="2.35"/><circle cx="644.2" cy="476.0" r="2.35"/><circle cx="616.6" cy="480.4" r="2.35"/><circle cx="631.0" cy="485.4" r="2.35"/><circle cx="646.2" cy="485.2" r="2.35"/><circle cx="621.0" cy="489.0" r="2.35"/><circle cx="633.0" cy="503.4" r="2.35"/><circle cx="654.4" cy="503.4" r="2.35"/><circle cx="657.4" cy="505.4" r="2.35"/><circle cx="670.2" cy="505.4" r="2.35"/><circle cx="701.2" cy="504.4" r="2.35"/><circle cx="645.4" cy="519.2" r="2.35"/><circle cx="614.4" cy="520.6" r="2.35"/></g>
<g fill="#000"><circle cx="264.2" cy="540.4" r="2.35"/><circle cx="272.4" cy="551.0" r="2.35"/><circle cx="290.0" cy="550.8" r="2.35"/><circle cx="250.4" cy="552.8" r="2.35"/><circle cx="256.0" cy="555.0" r="2.35"/><circle cx="261.2" cy="554.4" r="2.35"/><circle cx="265.8" cy="555.4" r="2.35"/><circle cx="259.6" cy="558.8" r="2.35"/><circle cx="267.0" cy="562.4" r="2.35"/><circle cx="261.4" cy="563.4" r="2.35"/><circle cx="251.4" cy="564.8" r="2.35"/><circle cx="271.4" cy="566.6" r="2.35"/><circle cx="295.0" cy="562.4" r="2.35"/><circle cx="333.2" cy="561.8" r="2.35"/><circle cx="346.8" cy="567.4" r="2.35"/><circle cx="241.6" cy="583.4" r="2.35"/><circle cx="254.0" cy="583.6" r="2.35"/><circle cx="259.2" cy="583.6" r="2.35"/><circle cx="266.4" cy="589.6" r="2.35"/><circle cx="362.2" cy="588.6" r="2.35"/><circle cx="260.4" cy="597.0" r="2.35"/><circle cx="274.4" cy="597.2" r="2.35"/><circle cx="296.4" cy="596.0" r="2.35"/><circle cx="261.0" cy="604.0" r="2.35"/><circle cx="270.0" cy="607.4" r="2.35"/><circle cx="281.2" cy="611.2" r="2.35"/><circle cx="284.4" cy="612.0" r="2.35"/><circle cx="307.8" cy="610.8" r="2.35"/><circle cx="257.0" cy="618.2" r="2.35"/><circle cx="262.6" cy="618.4" r="2.35"/><circle cx="370.4" cy="618.4" r="2.35"/><circle cx="309.2" cy="622.8" r="2.35"/><circle cx="259.0" cy="626.0" r="2.35"/><circle cx="257.4" cy="627.8" r="2.35"/></g>
<g fill="#000"><circle cx="433.4" cy="540.8" r="2.35"/><circle cx="442.4" cy="542.0" r="2.35"/><circle cx="468.0" cy="541.8" r="2.35"/><circle cx="479.4" cy="548.8" r="2.35"/><circle cx="436.4" cy="551.4" r="2.35"/><circle cx="456.4" cy="552.2" r="2.35"/><circle cx="467.8" cy="553.6" r="2.35"/><circle cx="476.6" cy="553.6" r="2.35"/><circle cx="436.2" cy="560.6" r="2.35"/><circle cx="497.2" cy="562.2" r="2.35"/><circle cx="446.4" cy="566.4" r="2.35"/><circle cx="428.4" cy="568.2" r="2.35"/><circle cx="444.6" cy="571.6" r="2.35"/><circle cx="429.2" cy="574.2" r="2.35"/><circle cx="441.0" cy="574.2" r="2.35"/><circle cx="497.2" cy="574.2" r="2.35"/><circle cx="535.8" cy="573.6" r="2.35"/><circle cx="541.6" cy="573.6" r="2.35"/><circle cx="546.8" cy="573.6" r="2.35"/><circle cx="435.0" cy="578.4" r="2.35"/><circle cx="483.2" cy="578.2" r="2.35"/><circle cx="439.0" cy="583.6" r="2.35"/><circle cx="429.6" cy="585.8" r="2.35"/><circle cx="437.0" cy="585.8" r="2.35"/><circle cx="443.0" cy="585.4" r="2.35"/><circle cx="446.6" cy="585.4" r="2.35"/><circle cx="419.4" cy="586.0" r="2.35"/><circle cx="451.0" cy="588.0" r="2.35"/><circle cx="446.0" cy="595.6" r="2.35"/><circle cx="452.0" cy="597.4" r="2.35"/><circle cx="433.0" cy="599.6" r="2.35"/><circle cx="468.6" cy="606.6" r="2.35"/><circle cx="488.6" cy="606.6" r="2.35"/><circle cx="439.0" cy="612.4" r="2.35"/><circle cx="449.8" cy="613.4" r="2.35"/><circle cx="464.2" cy="613.4" r="2.35"/><circle cx="472.6" cy="613.2" r="2.35"/><circle cx="481.2" cy="615.0" r="2.35"/><circle cx="420.8" cy="617.6" r="2.35"/><circle cx="435.4" cy="620.2" r="2.35"/><circle cx="442.6" cy="621.4" r="2.35"/><circle cx="449.8" cy="619.0" r="2.35"/><circle cx="483.4" cy="621.4" r="2.35"/><circle cx="449.4" cy="624.0" r="2.35"/><circle cx="479.4" cy="628.0" r="2.35"/><circle cx="554.4" cy="629.4" r="2.35"/></g>
<g fill="#000"><circle cx="635.6" cy="545.4" r="2.35"/><circle cx="707.0" cy="547.6" r="2.35"/><circle cx="611.4" cy="551.0" r="2.35"/><circle cx="630.4" cy="551.0" r="2.35"/><circle cx="605.4" cy="560.8" r="2.35"/><circle cx="610.0" cy="559.8" r="2.35"/><circle cx="677.8" cy="569.4" r="2.35"/><circle cx="609.8" cy="572.8" r="2.35"/><circle cx="615.8" cy="573.4" r="2.35"/><circle cx="617.0" cy="584.4" r="2.35"/><circle cx="660.2" cy="582.4" r="2.35"/><circle cx="707.6" cy="584.8" r="2.35"/><circle cx="612.6" cy="598.4" r="2.35"/><circle cx="666.4" cy="600.8" r="2.35"/><circle cx="602.0" cy="609.2" r="2.35"/><circle cx="683.4" cy="610.2" r="2.35"/><circle cx="673.6" cy="611.8" r="2.35"/><circle cx="665.0" cy="613.6" r="2.35"/><circle cx="614.6" cy="627.6" r="2.35"/><circle cx="648.6" cy="627.4" r="2.35"/><circle cx="622.0" cy="634.2" r="2.35"/><circle cx="683.4" cy="633.0" r="2.35"/><circle cx="694.0" cy="635.8" r="2.35"/></g>
<g fill="#000"><circle cx="255.4" cy="657.0" r="2.35"/><circle cx="266.4" cy="656.2" r="2.35"/><circle cx="261.6" cy="659.6" r="2.35"/><circle cx="251.4" cy="663.2" r="2.35"/><circle cx="255.4" cy="662.6" r="2.35"/><circle cx="279.4" cy="663.0" r="2.35"/><circle cx="286.0" cy="663.0" r="2.35"/><circle cx="358.8" cy="662.4" r="2.35"/><circle cx="377.8" cy="664.6" r="2.35"/><circle cx="253.2" cy="667.4" r="2.35"/><circle cx="268.4" cy="669.4" r="2.35"/><circle cx="254.0" cy="672.6" r="2.35"/><circle cx="255.4" cy="676.4" r="2.35"/><circle cx="266.8" cy="675.6" r="2.35"/><circle cx="272.2" cy="676.6" r="2.35"/><circle cx="368.4" cy="678.2" r="2.35"/><circle cx="289.0" cy="679.4" r="2.35"/><circle cx="246.8" cy="682.4" r="2.35"/><circle cx="250.6" cy="683.4" r="2.35"/><circle cx="256.4" cy="683.4" r="2.35"/><circle cx="266.8" cy="682.4" r="2.35"/><circle cx="252.4" cy="686.6" r="2.35"/><circle cx="254.4" cy="690.0" r="2.35"/><circle cx="299.4" cy="692.4" r="2.35"/><circle cx="252.0" cy="694.2" r="2.35"/><circle cx="264.4" cy="696.4" r="2.35"/><circle cx="272.6" cy="702.2" r="2.35"/><circle cx="325.0" cy="699.4" r="2.35"/><circle cx="328.2" cy="699.4" r="2.35"/><circle cx="349.4" cy="699.2" r="2.35"/><circle cx="359.4" cy="699.2" r="2.35"/><circle cx="260.0" cy="703.6" r="2.35"/><circle cx="252.4" cy="704.4" r="2.35"/><circle cx="253.0" cy="707.4" r="2.35"/><circle cx="267.0" cy="707.0" r="2.35"/><circle cx="355.0" cy="705.4" r="2.35"/><circle cx="269.6" cy="711.0" r="2.35"/><circle cx="260.2" cy="716.2" r="2.35"/><circle cx="256.0" cy="720.6" r="2.35"/><circle cx="268.2" cy="722.4" r="2.35"/><circle cx="302.0" cy="722.4" r="2.35"/><circle cx="256.6" cy="724.4" r="2.35"/><circle cx="259.0" cy="725.4" r="2.35"/><circle cx="265.6" cy="725.4" r="2.35"/><circle cx="278.8" cy="725.6" r="2.35"/><circle cx="284.6" cy="725.6" r="2.35"/><circle cx="332.4" cy="727.4" r="2.35"/><circle cx="253.0" cy="729.0" r="2.35"/><circle cx="252.4" cy="734.0" r="2.35"/><circle cx="263.4" cy="734.4" r="2.35"/><circle cx="254.6" cy="735.4" r="2.35"/><circle cx="258.2" cy="737.8" r="2.35"/><circle cx="253.0" cy="742.4" r="2.35"/><circle cx="292.6" cy="742.4" r="2.35"/><circle cx="313.0" cy="742.4" r="2.35"/><circle cx="262.6" cy="748.6" r="2.35"/></g>
<g fill="#000"><circle cx="432.4" cy="657.0" r="2.35"/><circle cx="436.4" cy="655.4" r="2.35"/><circle cx="448.2" cy="656.0" r="2.35"/><circle cx="489.0" cy="657.0" r="2.35"/><circle cx="491.6" cy="657.0" r="2.35"/><circle cx="526.4" cy="657.0" r="2.35"/><circle cx="551.2" cy="657.0" r="2.35"/><circle cx="552.4" cy="664.4" r="2.35"/><circle cx="442.2" cy="664.4" r="2.35"/><circle cx="445.6" cy="667.2" r="2.35"/><circle cx="434.0" cy="673.4" r="2.35"/><circle cx="442.6" cy="673.4" r="2.35"/><circle cx="447.8" cy="672.0" r="2.35"/><circle cx="533.2" cy="674.6" r="2.35"/><circle cx="459.4" cy="677.4" r="2.35"/><circle cx="477.4" cy="684.4" r="2.35"/><circle cx="521.4" cy="684.4" r="2.35"/><circle cx="551.8" cy="684.4" r="2.35"/><circle cx="558.8" cy="684.4" r="2.35"/><circle cx="559.8" cy="688.2" r="2.35"/><circle cx="460.4" cy="686.6" r="2.35"/><circle cx="426.4" cy="693.0" r="2.35"/><circle cx="437.0" cy="693.4" r="2.35"/><circle cx="463.4" cy="693.4" r="2.35"/><circle cx="471.8" cy="692.6" r="2.35"/><circle cx="438.4" cy="697.4" r="2.35"/><circle cx="440.4" cy="700.2" r="2.35"/><circle cx="430.4" cy="701.4" r="2.35"/><circle cx="448.8" cy="702.2" r="2.35"/><circle cx="453.8" cy="701.4" r="2.35"/><circle cx="521.0" cy="698.6" r="2.35"/><circle cx="538.6" cy="698.6" r="2.35"/><circle cx="436.2" cy="707.4" r="2.35"/><circle cx="438.4" cy="712.6" r="2.35"/><circle cx="446.2" cy="713.6" r="2.35"/><circle cx="488.4" cy="713.6" r="2.35"/><circle cx="506.4" cy="713.6" r="2.35"/><circle cx="527.4" cy="712.4" r="2.35"/><circle cx="459.4" cy="717.2" r="2.35"/><circle cx="483.0" cy="718.2" r="2.35"/><circle cx="492.0" cy="721.2" r="2.35"/><circle cx="519.6" cy="727.8" r="2.35"/><circle cx="450.6" cy="728.8" r="2.35"/><circle cx="427.4" cy="731.6" r="2.35"/><circle cx="432.4" cy="732.0" r="2.35"/><circle cx="438.0" cy="730.6" r="2.35"/><circle cx="448.0" cy="733.2" r="2.35"/><circle cx="430.2" cy="737.6" r="2.35"/><circle cx="437.6" cy="736.6" r="2.35"/><circle cx="454.4" cy="744.0" r="2.35"/><circle cx="434.0" cy="750.0" r="2.35"/></g>
<g fill="#000"><circle cx="644.4" cy="665.0" r="2.35"/><circle cx="704.8" cy="664.6" r="2.35"/><circle cx="605.6" cy="670.0" r="2.35"/><circle cx="726.0" cy="674.4" r="2.35"/><circle cx="615.4" cy="687.6" r="2.35"/><circle cx="717.6" cy="687.8" r="2.35"/><circle cx="605.6" cy="693.4" r="2.35"/><circle cx="635.4" cy="692.4" r="2.35"/><circle cx="679.8" cy="692.4" r="2.35"/><circle cx="632.4" cy="711.0" r="2.35"/><circle cx="677.2" cy="713.2" r="2.35"/><circle cx="625.0" cy="717.6" r="2.35"/><circle cx="615.4" cy="719.4" r="2.35"/><circle cx="632.8" cy="720.2" r="2.35"/><circle cx="619.6" cy="724.4" r="2.35"/><circle cx="685.4" cy="723.4" r="2.35"/><circle cx="624.0" cy="727.6" r="2.35"/><circle cx="626.0" cy="728.6" r="2.35"/><circle cx="696.6" cy="730.4" r="2.35"/><circle cx="605.6" cy="740.6" r="2.35"/><circle cx="627.0" cy="745.4" r="2.35"/></g>
<g fill="#000"><circle cx="277.2" cy="770.2" r="2.35"/><circle cx="252.4" cy="775.0" r="2.35"/><circle cx="257.4" cy="775.6" r="2.35"/><circle cx="264.4" cy="775.0" r="2.35"/><circle cx="298.6" cy="776.6" r="2.35"/><circle cx="317.4" cy="774.8" r="2.35"/><circle cx="365.4" cy="775.4" r="2.35"/><circle cx="241.4" cy="781.4" r="2.35"/><circle cx="251.4" cy="781.4" r="2.35"/><circle cx="261.4" cy="780.6" r="2.35"/><circle cx="264.0" cy="779.6" r="2.35"/><circle cx="279.6" cy="780.6" r="2.35"/><circle cx="282.2" cy="782.6" r="2.35"/><circle cx="253.6" cy="788.8" r="2.35"/><circle cx="363.6" cy="791.6" r="2.35"/><circle cx="251.6" cy="799.0" r="2.35"/><circle cx="252.6" cy="802.4" r="2.35"/><circle cx="250.4" cy="805.0" r="2.35"/><circle cx="273.6" cy="804.0" r="2.35"/><circle cx="280.0" cy="805.0" r="2.35"/><circle cx="312.2" cy="805.0" r="2.35"/><circle cx="330.0" cy="805.8" r="2.35"/><circle cx="270.8" cy="810.0" r="2.35"/><circle cx="294.8" cy="813.6" r="2.35"/><circle cx="257.6" cy="818.0" r="2.35"/><circle cx="265.0" cy="819.8" r="2.35"/><circle cx="280.0" cy="825.6" r="2.35"/><circle cx="260.6" cy="827.0" r="2.35"/><circle cx="260.6" cy="830.6" r="2.35"/><circle cx="270.6" cy="828.6" r="2.35"/><circle cx="313.0" cy="830.4" r="2.35"/><circle cx="339.4" cy="829.6" r="2.35"/><circle cx="360.4" cy="828.6" r="2.35"/><circle cx="279.4" cy="833.6" r="2.35"/><circle cx="297.4" cy="839.0" r="2.35"/><circle cx="289.6" cy="841.6" r="2.35"/><circle cx="287.6" cy="845.0" r="2.35"/><circle cx="259.4" cy="843.0" r="2.35"/><circle cx="263.4" cy="845.0" r="2.35"/><circle cx="252.4" cy="859.2" r="2.35"/><circle cx="255.4" cy="859.2" r="2.35"/><circle cx="265.6" cy="859.8" r="2.35"/><circle cx="272.4" cy="859.0" r="2.35"/><circle cx="275.2" cy="859.8" r="2.35"/><circle cx="279.2" cy="859.0" r="2.35"/><circle cx="299.2" cy="859.8" r="2.35"/><circle cx="350.8" cy="858.6" r="2.35"/><circle cx="374.8" cy="859.0" r="2.35"/><circle cx="284.4" cy="864.4" r="2.35"/><circle cx="299.2" cy="866.0" r="2.35"/><circle cx="360.8" cy="865.6" r="2.35"/></g>
<g fill="#000"><circle cx="465.0" cy="769.6" r="2.35"/><circle cx="463.4" cy="774.0" r="2.35"/><circle cx="445.4" cy="772.4" r="2.35"/><circle cx="452.4" cy="780.4" r="2.35"/><circle cx="511.0" cy="779.6" r="2.35"/><circle cx="530.4" cy="783.4" r="2.35"/><circle cx="432.0" cy="785.4" r="2.35"/><circle cx="445.0" cy="792.4" r="2.35"/><circle cx="473.8" cy="791.6" r="2.35"/><circle cx="494.4" cy="791.4" r="2.35"/><circle cx="437.8" cy="795.6" r="2.35"/><circle cx="453.8" cy="797.4" r="2.35"/><circle cx="447.4" cy="812.4" r="2.35"/><circle cx="477.4" cy="812.4" r="2.35"/><circle cx="490.4" cy="815.4" r="2.35"/><circle cx="523.2" cy="815.4" r="2.35"/><circle cx="431.0" cy="815.4" r="2.35"/><circle cx="439.2" cy="816.4" r="2.35"/><circle cx="521.0" cy="823.4" r="2.35"/><circle cx="431.4" cy="823.6" r="2.35"/><circle cx="435.0" cy="826.4" r="2.35"/><circle cx="438.0" cy="828.0" r="2.35"/><circle cx="441.0" cy="829.6" r="2.35"/><circle cx="460.8" cy="832.2" r="2.35"/><circle cx="465.0" cy="838.2" r="2.35"/><circle cx="441.2" cy="839.6" r="2.35"/><circle cx="529.4" cy="843.4" r="2.35"/><circle cx="430.4" cy="852.4" r="2.35"/><circle cx="457.4" cy="855.4" r="2.35"/><circle cx="458.4" cy="859.4" r="2.35"/><circle cx="459.6" cy="862.0" r="2.35"/><circle cx="513.6" cy="860.2" r="2.35"/><circle cx="449.4" cy="862.6" r="2.35"/><circle cx="443.0" cy="865.2" r="2.35"/><circle cx="437.0" cy="866.0" r="2.35"/><circle cx="456.6" cy="867.2" r="2.35"/></g>
<g fill="#000"><circle cx="698.0" cy="768.6" r="2.35"/><circle cx="740.6" cy="768.4" r="2.35"/><circle cx="720.4" cy="784.0" r="2.35"/><circle cx="626.4" cy="804.4" r="2.35"/><circle cx="644.4" cy="804.2" r="2.35"/><circle cx="657.0" cy="808.8" r="2.35"/><circle cx="659.6" cy="815.4" r="2.35"/><circle cx="617.0" cy="816.2" r="2.35"/><circle cx="678.4" cy="815.0" r="2.35"/><circle cx="702.6" cy="814.6" r="2.35"/><circle cx="720.4" cy="814.8" r="2.35"/><circle cx="661.4" cy="832.6" r="2.35"/><circle cx="650.6" cy="840.4" r="2.35"/><circle cx="625.6" cy="845.4" r="2.35"/><circle cx="629.0" cy="858.6" r="2.35"/></g>
<polygon points="749.37,111.70 766.00,96.30 766.00,127.60" fill="none" stroke="#000" stroke-width="2.0" stroke-linejoin="miter"/>
<polygon points="564.47,468.20 580.00,452.20 580.00,484.40" fill="none" stroke="#000" stroke-width="2.0" stroke-linejoin="miter"/>
<polygon points="383.67,695.40 400.00,680.30 400.00,710.40" fill="none" stroke="#000" stroke-width="2.0" stroke-linejoin="miter"/>
<text x="301.8" y="64" font-size="30" text-anchor="middle">+5 dB</text>
<text x="442.84 460.36 477.05 493.73 502.06 518.75" y="64.0" font-size="30">+10 dB</text>
<text x="616.84 634.36 651.05 667.73 676.06 692.75" y="64.0" font-size="30">+15 dB</text>
<text x="134.06" y="138.6" font-size="30">1</text>
<text x="142.4" y="254.9" font-size="30" text-anchor="middle">2</text>
<text x="142.4" y="370.0" font-size="30" text-anchor="middle">3</text>
<text x="142.4" y="486.6" font-size="30" text-anchor="middle">4</text>
<text x="142.4" y="601.6" font-size="30" text-anchor="middle">6</text>
<text x="142.4" y="716.8" font-size="30" text-anchor="middle">8</text>
<text x="120.72 137.40" y="830.3" font-size="30">10</text>
<text transform="translate(119.4 439.5) rotate(-90)" font-size="33.8" text-anchor="middle">Pulse duration (ms)</text>
<text x="471.3" y="934.5" font-size="33.8" text-anchor="middle">Time (ms)</text>
<text x="236.7" y="891.8" font-size="19.4" text-anchor="middle">0</text>
<text x="294.0" y="891.8" font-size="19.4" text-anchor="middle">200</text>
<text x="351.3" y="891.8" font-size="19.4" text-anchor="middle">400</text>
<text x="417.1" y="891.1" font-size="19.4" text-anchor="middle">0</text>
<text x="474.4" y="891.1" font-size="19.4" text-anchor="middle">200</text>
<text x="531.7" y="891.1" font-size="19.4" text-anchor="middle">400</text>
<text x="599.2" y="890.3" font-size="19.4" text-anchor="middle">0</text>
<text x="656.5" y="890.3" font-size="19.4" text-anchor="middle">200</text>
<text x="713.8" y="890.3" font-size="19.4" text-anchor="middle">400</text>
<text x="198.03 208.82 219.61" y="774.0" font-size="19.4">100</text>
<text x="229.8" y="874.2" font-size="19.4" text-anchor="end">0</text>
<rect x="461.25" y="60.56" width="6.41" height="4.84" fill="#f7f7f7"/>
<rect x="470.80" y="60.56" width="6.42" height="4.84" fill="#f7f7f7"/>
<rect x="635.25" y="60.56" width="6.41" height="4.84" fill="#f7f7f7"/>
<rect x="644.80" y="60.56" width="6.42" height="4.84" fill="#f7f7f7"/>
<rect x="134.94" y="135.16" width="6.41" height="4.84" fill="#f7f7f7"/>
<rect x="144.50" y="135.16" width="6.42" height="4.84" fill="#f7f7f7"/>
<rect x="121.60" y="826.86" width="6.41" height="4.84" fill="#f7f7f7"/>
<rect x="131.16" y="826.86" width="6.42" height="4.84" fill="#f7f7f7"/>
<rect x="198.11" y="771.35" width="4.55" height="4.05" fill="#f7f7f7"/>
<rect x="204.87" y="771.35" width="4.65" height="4.05" fill="#f7f7f7"/>
</svg></body></html>
